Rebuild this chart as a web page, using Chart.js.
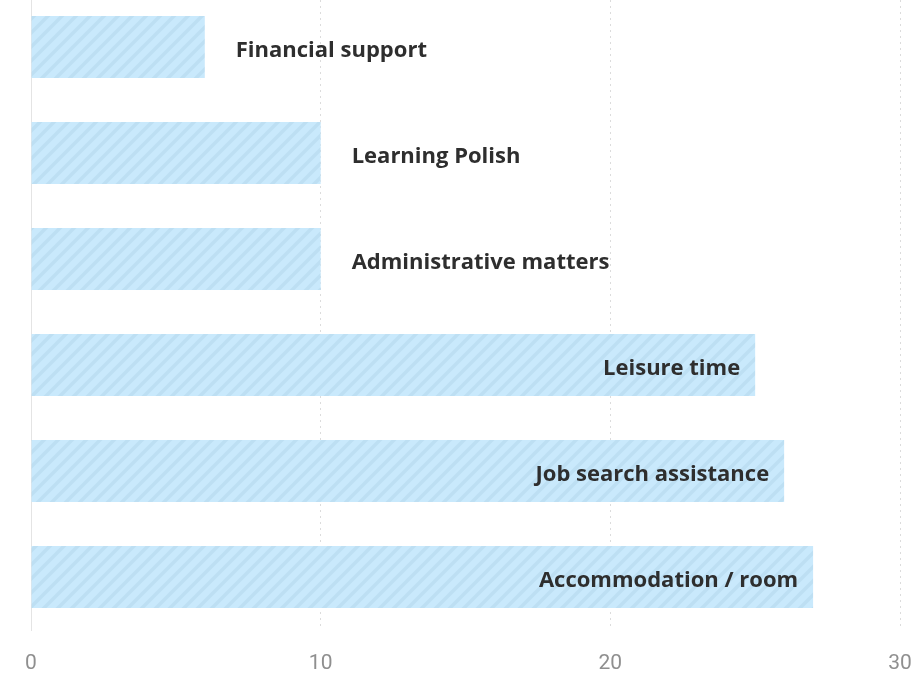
<!DOCTYPE html>
<html lang="en">
<head>
    <meta charset="UTF-8">
    <title>Support needs</title>
    <script src="https://cdn.jsdelivr.net/npm/chart.js"></script>
    <style>
        html, body {
            margin: 0;
            padding: 0;
            background: #fff;
            overflow: hidden;
        }
        .wrap {
            position: absolute;
            left: 0;
            top: -6px;
            width: 913px;
            height: 679px;
        }
    </style>
</head>
<body>
    <div class="wrap">
        <canvas id="needsChart"></canvas>
    </div>

    <script>
        // data
        const categories = ['Financial support', 'Learning Polish', 'Administrative matters',
            'Leisure time', 'Job search assistance', 'Accommodation / room'];
        const values = [6, 10, 10, 25, 26, 27];
        const xTicks = [0, 10, 20, 30];

        // striped fill
        function makeStripes() {
            const size = 14;
            const c = document.createElement('canvas');
            c.width = size;
            c.height = size;
            const g = c.getContext('2d');
            g.fillStyle = '#c9e9fc';
            g.fillRect(0, 0, size, size);
            g.strokeStyle = '#bddff3';
            g.lineWidth = 3.5;
            g.beginPath();
            g.moveTo(-2, size + 2); g.lineTo(size + 2, -2);
            g.moveTo(-2, 2); g.lineTo(2, -2);
            g.moveTo(size - 2, size + 2); g.lineTo(size + 2, size - 2);
            g.stroke();
            return g.createPattern(c, 'repeat');
        }

        // category names: inside long bars, after short ones
        const barLabels = {
            id: 'barLabels',
            afterDatasetsDraw(chart) {
                const ctx = chart.ctx;
                const meta = chart.getDatasetMeta(0);
                const half = chart.scales.x.max / 2;
                ctx.save();
                ctx.font = "bold 22px 'Open Sans', sans-serif";
                ctx.fillStyle = '#2e2e2e';
                ctx.textBaseline = 'middle';
                meta.data.forEach((bar, i) => {
                    const text = categories[i];
                    if (values[i] > half) {
                        ctx.textAlign = 'right';
                        ctx.fillText(text, bar.x - 15, bar.y + 4);
                    } else {
                        ctx.textAlign = 'left';
                        ctx.fillText(text, bar.x + 31, bar.y + 4);
                    }
                });
                ctx.restore();
            }
        };

        new Chart(document.getElementById('needsChart'), {
            type: 'bar',
            data: {
                labels: categories,
                datasets: [{
                    data: values,
                    backgroundColor: makeStripes(),
                    borderWidth: 0,
                    barPercentage: 0.585,
                    categoryPercentage: 1
                }]
            },
            options: {
                indexAxis: 'y',
                responsive: true,
                maintainAspectRatio: false,
                animation: false,
                layout: { padding: { left: 31, right: 13, top: 0, bottom: 0 } },
                plugins: {
                    legend: { display: false },
                    tooltip: { enabled: false }
                },
                scales: {
                    x: {
                        min: 0,
                        max: 30,
                        afterBuildTicks: axis => { axis.ticks = xTicks.map(v => ({ value: v })); },
                        afterFit: axis => {
                            axis.height = 43;
                            axis.paddingLeft = 0;
                            axis.paddingRight = 0;
                        },
                        grid: { color: '#dcdcdc', lineWidth: 1, drawTicks: false },
                        border: { display: false, dash: [2, 4] },
                        ticks: {
                            padding: 21,
                            maxRotation: 0,
                            color: '#8f8f8f',
                            font: { family: "'Liberation Sans Narrow', Roboto", size: 21 }
                        }
                    },
                    y: {
                        afterFit: axis => { axis.width = 0; },
                        grid: { display: false },
                        border: { display: true, color: '#e4e4e4', width: 1 },
                        ticks: { display: false }
                    }
                }
            },
            plugins: [barLabels]
        });
    </script>
</body>
</html>
